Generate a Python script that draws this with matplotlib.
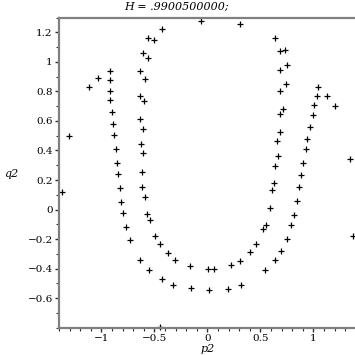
"""
Poincare section style scatter: q2 against p2 for one energy level.
Writes out.png (355x355 px).
"""

import matplotlib
matplotlib.use('Agg')
import matplotlib.pyplot as plt
from matplotlib.ticker import FixedLocator, MultipleLocator

# Data
P2 = [-0.062, -0.425, -0.557, -0.506, -0.604, -0.557, -0.921, -0.635, -1.028,
      -0.921, -0.585, -1.113, -0.915, -0.635, -0.915, -0.600, -0.896, -0.635,
      -0.887, -0.604, -1.302, -0.877, -0.623, -0.858, -0.604, -0.849, -0.840,
      -0.613, -1.374, -0.821, -0.613, -0.585, -0.811, -0.792, -0.566, -0.538,
      -0.764, -0.726, -0.491, -0.443, -0.368, -0.302, -0.632, -0.547, -0.160,
      0.009, 0.066, -0.425, -0.321, -0.151, 0.019, -0.443, 0.198, 0.321,
      0.226, 0.311, 0.406, 0.462, 0.547, 0.642, 0.698, 0.755, 0.792,
      0.557, 0.528, 0.821, 0.594, 0.849, 0.613, 0.632, 0.868, 0.887,
      0.906, 0.642, 1.377, 1.349, 0.670, 0.934, 0.660, 0.943, 0.689,
      0.972, 0.997, 0.683, 0.717, 1.009, 1.208, 1.038, 1.132, 1.047,
      0.689, 0.745, 0.689, 0.755, 0.686, 0.736, 0.642, 0.311]
Q2 = [1.277, 1.223, 1.162, 1.149, 1.061, 1.027, 0.941, 0.941, 0.892,
      0.880, 0.887, 0.831, 0.804, 0.772, 0.743, 0.736, 0.662, 0.612,
      0.576, 0.547, 0.500, 0.507, 0.446, 0.412, 0.385, 0.318, 0.243,
      0.257, 0.122, 0.149, 0.155, 0.088, 0.049, -0.020, -0.027, -0.068,
      -0.115, -0.209, -0.176, -0.230, -0.297, -0.338, -0.338, -0.412, -0.385,
      -0.404, -0.399, -0.471, -0.507, -0.533, -0.547, -0.797, -0.534, -0.507,
      -0.372, -0.345, -0.284, -0.236, -0.412, -0.338, -0.277, -0.196, -0.101,
      -0.101, -0.130, -0.034, 0.014, 0.061, 0.135, 0.178, 0.155, 0.232,
      0.318, 0.297, -0.176, 0.345, 0.365, 0.412, 0.466, 0.480, 0.527,
      0.561, 0.642, 0.649, 0.684, 0.705, 0.698, 0.770, 0.770, 0.831,
      0.804, 0.851, 0.948, 0.980, 1.076, 1.081, 1.162, 1.259]

X_TICKS = [-1, -0.5, 0, 0.5, 1]
X_LABELS = ['\u22121', '\u22120.5', '0', '0.5', '1']
Y_TICKS = [-0.6, -0.4, -0.2, 0, 0.2, 0.4, 0.6, 0.8, 1, 1.2]
Y_LABELS = ['\u22120.6', '\u22120.4', '\u22120.2', '0', '0.2', '0.4', '0.6',
            '0.8', '1', '1.2']

TITLE = 'H = .9900500000;'
X_NAME = 'p2'
Y_NAME = 'q2'

FONT = 'DejaVu Serif'
SPINE_COLOR = '#808080'
OUT_FILE = 'out.png'


def style_axes(ax):
    """ Maple-like frame: grey left/bottom/top lines, small outward ticks """
    ax.set_xlim(-1.4, 1.4)
    ax.set_ylim(-0.8, 1.3)
    ax.spines['right'].set_visible(False)
    for side in ('left', 'bottom', 'top'):
        ax.spines[side].set_color(SPINE_COLOR)
        ax.spines[side].set_linewidth(1.6)

    ax.xaxis.set_major_locator(FixedLocator(X_TICKS))
    ax.set_xticklabels(X_LABELS)
    ax.xaxis.set_minor_locator(MultipleLocator(0.1))
    ax.yaxis.set_major_locator(FixedLocator(Y_TICKS))
    ax.set_yticklabels(Y_LABELS)
    ax.yaxis.set_minor_locator(MultipleLocator(0.1))

    ax.tick_params(which='major', direction='out', length=3, width=1,
                   color='#303030', labelsize=7.5, pad=1.5)
    ax.tick_params(which='minor', direction='out', length=2, width=0.8,
                   color='#303030')
    for lbl in ax.get_xticklabels() + ax.get_yticklabels():
        lbl.set_family(FONT)


def main():
    fig = plt.figure(figsize=(3.55, 3.55), dpi=100)
    ax = fig.add_axes([0.166, 0.0766, 0.836, 0.8741])
    ax.plot(P2, Q2, linestyle='none', marker='+', color='black',
            markersize=4.2, markeredgewidth=0.9, clip_on=False)
    style_axes(ax)

    fig.text(0.496, 0.980, TITLE, ha='center', va='center', family=FONT,
             style='italic', fontsize=8)
    fig.text(0.031, 0.510, Y_NAME, ha='center', va='center', family=FONT,
             style='italic', fontsize=8)
    # reference crops this label at the bottom edge; keep it just inside
    fig.text(0.585, 0.003, X_NAME, ha='center', va='bottom', family=FONT,
             style='italic', fontsize=8)

    fig.savefig(OUT_FILE, dpi=100)
    plt.close(fig)


if __name__ == '__main__':
    main()
